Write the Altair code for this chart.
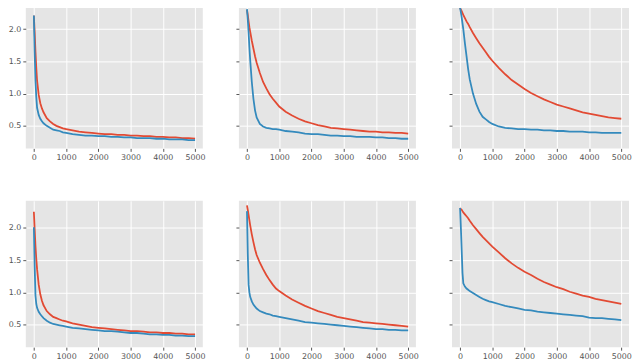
import altair as alt
import pandas as pd

steps = [0, 25, 50, 75, 100, 150, 200, 250, 300, 400, 500, 600, 700, 800, 900, 1000,
         1200, 1400, 1600, 1800, 2000, 2200, 2400, 2600, 2800, 3000, 3200, 3400, 3600,
         3800, 4000, 4200, 4400, 4600, 4800, 5000]

p1_red = [2.21, 1.95, 1.65, 1.40, 1.20, 0.98, 0.85, 0.77, 0.71, 0.62, 0.57, 0.53, 0.50, 0.48, 0.46, 0.45,
          0.43, 0.41, 0.40, 0.39, 0.38, 0.37, 0.37, 0.36, 0.36, 0.35, 0.35, 0.34, 0.34, 0.33, 0.33, 0.32,
          0.32, 0.31, 0.31, 0.30]
p1_blue = [2.21, 1.65, 1.20, 0.95, 0.78, 0.67, 0.61, 0.57, 0.54, 0.50, 0.47, 0.44, 0.43, 0.42, 0.40, 0.39,
           0.37, 0.36, 0.35, 0.35, 0.34, 0.34, 0.33, 0.33, 0.32, 0.32, 0.31, 0.31, 0.31, 0.30, 0.30, 0.29,
           0.29, 0.29, 0.28, 0.28]
p2_red = [2.30, 2.22, 2.12, 2.03, 1.96, 1.82, 1.70, 1.58, 1.48, 1.32, 1.18, 1.08, 0.99, 0.92, 0.86, 0.80,
          0.72, 0.66, 0.61, 0.57, 0.54, 0.51, 0.49, 0.47, 0.46, 0.45, 0.44, 0.43, 0.42, 0.41, 0.41, 0.40,
          0.40, 0.39, 0.39, 0.38]
p2_blue = [2.31, 2.15, 1.95, 1.72, 1.52, 1.18, 0.92, 0.74, 0.63, 0.53, 0.49, 0.47, 0.46, 0.45, 0.45, 0.44,
           0.42, 0.41, 0.40, 0.38, 0.37, 0.37, 0.36, 0.35, 0.35, 0.34, 0.34, 0.33, 0.33, 0.33, 0.32, 0.32,
           0.31, 0.31, 0.30, 0.30]
p3_red = [2.33, 2.30, 2.28, 2.25, 2.22, 2.17, 2.12, 2.08, 2.03, 1.94, 1.86, 1.78, 1.71, 1.64, 1.57, 1.51,
          1.40, 1.30, 1.21, 1.14, 1.07, 1.01, 0.96, 0.91, 0.87, 0.83, 0.80, 0.77, 0.74, 0.71, 0.69, 0.67,
          0.65, 0.63, 0.62, 0.61]
p3_blue = [2.33, 2.26, 2.18, 2.09, 2.00, 1.78, 1.58, 1.38, 1.22, 1.00, 0.84, 0.72, 0.64, 0.60, 0.56, 0.53,
           0.49, 0.47, 0.46, 0.45, 0.45, 0.44, 0.44, 0.43, 0.43, 0.42, 0.42, 0.41, 0.41, 0.41, 0.40, 0.40,
           0.39, 0.39, 0.39, 0.39]
p4_red = [2.25, 1.98, 1.72, 1.52, 1.36, 1.12, 0.97, 0.87, 0.80, 0.71, 0.66, 0.62, 0.60, 0.58, 0.56, 0.55,
          0.52, 0.50, 0.48, 0.46, 0.45, 0.44, 0.43, 0.42, 0.41, 0.40, 0.40, 0.39, 0.38, 0.38, 0.37, 0.37,
          0.36, 0.36, 0.35, 0.35]
p4_blue = [2.01, 1.40, 0.95, 0.82, 0.76, 0.70, 0.66, 0.63, 0.60, 0.56, 0.53, 0.51, 0.50, 0.49, 0.48, 0.47,
           0.45, 0.44, 0.43, 0.42, 0.41, 0.40, 0.40, 0.39, 0.38, 0.37, 0.37, 0.36, 0.35, 0.35, 0.34, 0.34,
           0.33, 0.33, 0.32, 0.32]
p5_red = [2.35, 2.28, 2.20, 2.12, 2.04, 1.90, 1.78, 1.67, 1.58, 1.46, 1.36, 1.27, 1.19, 1.12, 1.06, 1.02,
          0.95, 0.89, 0.84, 0.79, 0.75, 0.71, 0.68, 0.65, 0.62, 0.60, 0.58, 0.56, 0.54, 0.53, 0.52, 0.51,
          0.50, 0.49, 0.48, 0.47]
p5_blue = [2.26, 1.60, 1.12, 1.00, 0.93, 0.86, 0.81, 0.78, 0.75, 0.71, 0.69, 0.67, 0.66, 0.64, 0.63, 0.62,
           0.60, 0.58, 0.56, 0.54, 0.53, 0.52, 0.51, 0.50, 0.49, 0.48, 0.47, 0.46, 0.45, 0.44, 0.43, 0.43,
           0.42, 0.42, 0.41, 0.41]
p6_red = [2.31, 2.29, 2.28, 2.26, 2.24, 2.21, 2.18, 2.15, 2.11, 2.04, 1.98, 1.92, 1.86, 1.81, 1.76, 1.71,
          1.62, 1.53, 1.45, 1.38, 1.32, 1.27, 1.21, 1.16, 1.12, 1.08, 1.05, 1.01, 0.98, 0.95, 0.93, 0.90,
          0.88, 0.86, 0.84, 0.82]
p6_blue = [2.31, 2.00, 1.65, 1.30, 1.14, 1.09, 1.06, 1.04, 1.02, 0.99, 0.96, 0.93, 0.90, 0.88, 0.86, 0.85,
           0.82, 0.79, 0.77, 0.75, 0.73, 0.72, 0.70, 0.69, 0.68, 0.67, 0.66, 0.65, 0.64, 0.63, 0.61, 0.60,
           0.60, 0.59, 0.58, 0.57]

panels = [(p1_red, p1_blue), (p2_red, p2_blue), (p3_red, p3_blue),
          (p4_red, p4_blue), (p5_red, p5_blue), (p6_red, p6_blue)]

x_ticks = [0, 1000, 2000, 3000, 4000, 5000]
y_ticks = [0.5, 1.0, 1.5, 2.0]

RED = "#E24A33"
BLUE = "#348ABD"

xs = alt.Scale(domain=[-250, 5240], nice=False, zero=False)
ys = alt.Scale(domain=[0.15, 2.42], nice=False, zero=False)


def panel(red, blue, show_y_labels):
    df = pd.DataFrame({"step": steps, "red": red, "blue": blue})
    xax = alt.Axis(values=x_ticks, format="d", title=None, labelFontSize=8,
                   labelColor="#555555", tickColor="#555555", tickSize=3,
                   labelPadding=2, domain=False, grid=True, gridColor="white",
                   gridWidth=1, labelFlush=False)
    yax = alt.Axis(values=y_ticks, format=".1f", title=None, labelFontSize=8,
                   labelColor="#555555", tickColor="#555555", tickSize=3,
                   labelPadding=2, domain=False, grid=True, gridColor="white",
                   gridWidth=1, labels=show_y_labels)
    base = alt.Chart(df)
    r = base.mark_line(color=RED, strokeWidth=1.8, clip=True).encode(
        x=alt.X("step:Q", scale=xs, axis=xax),
        y=alt.Y("red:Q", scale=ys, axis=yax),
    )
    b = base.mark_line(color=BLUE, strokeWidth=1.8, clip=True).encode(
        x=alt.X("step:Q", scale=xs, axis=xax),
        y=alt.Y("blue:Q", scale=ys, axis=yax),
    )
    return alt.layer(r, b).properties(width=179, height=148)


charts = [panel(panels[i][0], panels[i][1], i in (0, 3)) for i in range(6)]

chart = alt.concat(*charts, columns=3, spacing={"row": 53, "column": 36.5},
                   bounds="flush").properties(
    padding={"left": 0, "top": -8, "right": 0, "bottom": 0}
).configure(font="DejaVu Sans", background="white").configure_view(
    fill="#E5E5E5", stroke=None
)

chart.save("out.html", embed_options={"renderer": "svg", "actions": False})
